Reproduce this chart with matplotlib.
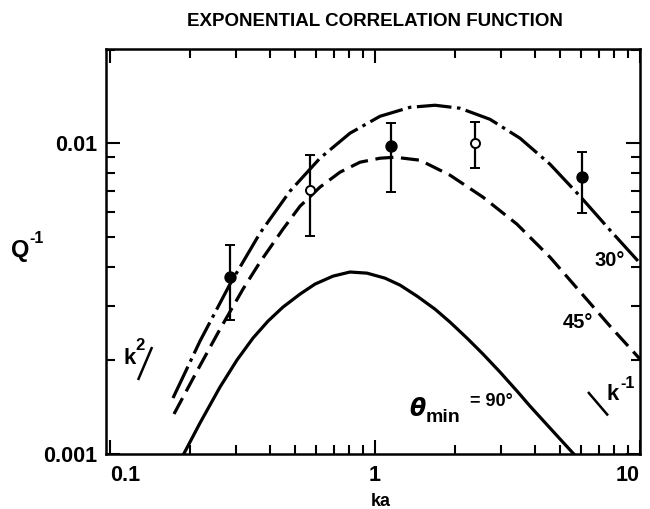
import numpy as np
import matplotlib
matplotlib.use("Agg")
import matplotlib.pyplot as plt
from matplotlib.ticker import FixedLocator, FixedFormatter, NullFormatter, LogLocator

plt.rcParams["font.family"] = ["Liberation Sans", "DejaVu Sans"]
plt.rcParams["font.weight"] = "bold"
plt.rcParams["lines.scale_dashes"] = False

# Inverse quality factor vs. ka for three minimum scattering angles
ka_30 = [0.1729, 0.2186, 0.2837, 0.3681, 0.4778, 0.6199, 0.8046, 1.0444, 1.3557, 1.6843,
         2.093, 2.716, 3.525, 4.575, 5.937, 7.705, 10.0]
q_30 = [0.001514, 0.002308, 0.003521, 0.005136, 0.007011, 0.008949, 0.01077, 0.01221, 0.01305, 0.01325,
        0.01296, 0.01194, 0.01038, 0.008561, 0.006755, 0.005253, 0.004111]

ka_45 = [0.1744, 0.2111, 0.2601, 0.3176, 0.3681, 0.4496, 0.5212, 0.6199, 0.7376, 0.8779,
         1.0444, 1.190, 1.4786, 1.919, 2.556, 3.435, 4.575, 6.094, 7.705, 10.0]
q_45 = [0.001345, 0.001822, 0.002522, 0.003393, 0.004142, 0.005292, 0.006270, 0.007222, 0.008068, 0.008688,
        0.008949, 0.009016, 0.008817, 0.007892, 0.006705, 0.005488, 0.004298, 0.003246, 0.002579, 0.002020]

ka_90 = [0.1886, 0.2186, 0.2601, 0.3014, 0.3464, 0.3948, 0.4496, 0.5212, 0.5937, 0.694,
         0.8046, 0.933, 1.0907, 1.243, 1.441, 1.6843, 1.919, 2.224, 2.556, 2.963,
         3.435, 3.845, 4.575, 5.685]
q_90 = [0.00099, 0.001258, 0.001642, 0.002006, 0.00236, 0.002677, 0.00297, 0.003269, 0.003521, 0.003735,
        0.003851, 0.003819, 0.00368, 0.003495, 0.003221, 0.002925, 0.002657, 0.00236, 0.002097, 0.001835,
        0.001594, 0.001426, 0.001212, 0.00099]

# Measurements with error bars
ka_filled = [0.284, 1.15, 6.04]
q_filled = [0.0037, 0.0098, 0.0078]
q_filled_lo = [0.0027, 0.00696, 0.00596]
q_filled_hi = [0.0047, 0.0116, 0.00936]

ka_open = [0.568, 2.38]
q_open = [0.00706, 0.0100]
q_open_lo = [0.00502, 0.00831]
q_open_hi = [0.00915, 0.01168]

x_ticks = [0.1, 1, 10]
x_tick_labels = ["0.1", "1", "10"]
y_ticks = [0.001, 0.01]
y_tick_labels = ["0.001", "0.01"]

W, H = 650, 509
fig = plt.figure(figsize=(W / 100, H / 100), dpi=100)
ax = fig.add_axes([106 / W, 1 - 454 / H, (640 - 106) / W, (454 - 49) / H])
ax.set_xscale("log")
ax.set_yscale("log")
ax.set_xlim(0.0966, 10.0)
ax.set_ylim(0.001, 0.0201)

lw = 2.3
ax.plot(ka_30, q_30, color="black", lw=lw, dashes=(25, 4, 2.5, 4), solid_joinstyle="round")
ax.plot(ka_45, q_45, color="black", lw=lw, dashes=(13, 5.5), solid_joinstyle="round")
ax.plot(ka_90, q_90, color="black", lw=lw, solid_joinstyle="round")

def draw_points(xs, ys, lo, hi, face, size):
    ys = np.array(ys)
    yerr = [ys - np.array(lo), np.array(hi) - ys]
    ax.errorbar(xs, ys, yerr=yerr, fmt="o", ms=size, mfc=face, mec="black", mew=1.4,
                ecolor="black", elinewidth=1.6, capsize=3.5, capthick=1.6, zorder=5)

draw_points(ka_filled, q_filled, q_filled_lo, q_filled_hi, "black", 7.5)
draw_points(ka_open, q_open, q_open_lo, q_open_hi, "white", 6.5)

# Slope guides: k^2 at low ka, k^-1 at high ka
def slope_guide(x0, y0, factor, slope):
    xs = np.array([x0, x0 * factor])
    ys = y0 * (xs / x0) ** slope
    ax.plot(xs, ys, color="black", lw=1.8, solid_capstyle="butt")

slope_guide(0.1276, 0.00173, 1.13, 2.0)
slope_guide(6.365, 0.001583, 1.19, -1.0)

# Axes styling
for s in ax.spines.values():
    s.set_linewidth(1.8)
ax.xaxis.set_major_locator(FixedLocator(x_ticks))
ax.xaxis.set_major_formatter(FixedFormatter(x_tick_labels))
ax.yaxis.set_major_locator(FixedLocator(y_ticks))
ax.yaxis.set_major_formatter(FixedFormatter(y_tick_labels))
ax.xaxis.set_minor_locator(LogLocator(base=10, subs=np.arange(2, 10)))
ax.yaxis.set_minor_locator(LogLocator(base=10, subs=np.arange(2, 10)))
ax.xaxis.set_minor_formatter(NullFormatter())
ax.yaxis.set_minor_formatter(NullFormatter())
ax.tick_params(which="both", direction="in", top=True, right=True, width=1.5, colors="black")
ax.tick_params(which="major", length=10)
ax.tick_params(which="minor", length=6.5)
ax.tick_params(axis="x", which="major", labelsize=15.5, pad=8)
ax.tick_params(axis="y", which="major", labelsize=15.5, pad=6)

def put(x, y, s, size, ha="center", va="center", **kw):
    fig.text(x / W, 1 - y / H, s, fontsize=size, ha=ha, va=va, fontweight="bold", **kw)

put(375, 21, "EXPONENTIAL CORRELATION FUNCTION", 13.5)
put(381, 501, "ka", 13)
put(20, 250, "Q", 17)
put(29, 238, "-1", 11.5, ha="left")

put(130, 359, "k", 16)
put(140, 346, "2", 12)
put(613, 395, "k", 16)
put(620, 383, "-1", 11.5, ha="left")

put(610, 260, "30°", 14.5)
put(578, 323, "45°", 14.5)

put(417, 409, "θ", 17, fontstyle="italic", family=["DejaVu Sans"])
put(426, 418, "min", 14, ha="left")
put(491, 402, "= 90°", 13)

fig.canvas.draw()
xl = ax.get_xticklabels()
xl[0].set_horizontalalignment("left")
xl[-1].set_horizontalalignment("right")
for lab in xl + ax.get_yticklabels():
    lab.set_fontweight("bold")

fig.savefig("out.png", dpi=100)
